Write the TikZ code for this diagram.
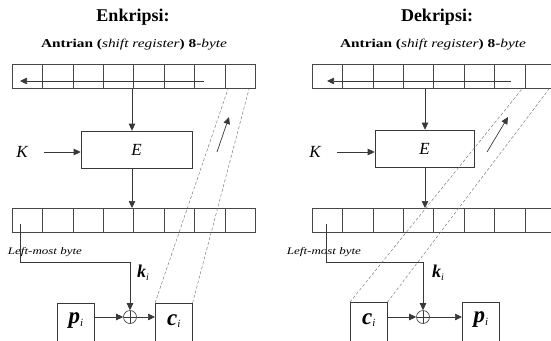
\documentclass[tikz,border=0pt]{standalone}
\usepackage{fontspec}
\setmainfont{Liberation Serif}
\usetikzlibrary{arrows.meta}

% horizontally widened text
\newcommand\wide[2][1.28]{\scalebox{#1}[1]{#2}}
% bold italic variable with italic subscript
\newcommand\var[4]{{\fontsize{#1}{#1}\selectfont\bfseries\itshape #2}{\fontsize{#4}{#4}\selectfont\itshape\raisebox{-2.5pt}{#3}}}

\begin{document}
\begin{tikzpicture}[x=1pt,y=-1pt,
  line/.style={draw=black!78, line width=0.7pt},
  arr/.style={line, -{Triangle[length=7pt,width=6.5pt]}},
  reg/.style={draw=black!72, line width=0.6pt, minimum width=243pt,
              minimum height=24pt, inner sep=0pt, anchor=north west},
  cellline/.style={draw=black!72, line width=0.6pt},
  func/.style={draw=black!78, line width=0.6pt, minimum width=#1,
               minimum height=37pt, inner sep=0pt},
  varbox/.style={draw=black!78, line width=0.6pt, minimum width=37pt,
                 minimum height=40pt, inner sep=0pt, anchor=north west},
  xor/.style={circle, draw=black!78, line width=0.6pt, minimum size=13pt,
              inner sep=0pt,
              path picture={\draw[black!78, line width=0.6pt]
                (path picture bounding box.north) -- (path picture bounding box.south)
                (path picture bounding box.west) -- (path picture bounding box.east);}},
  feed/.style={draw=black!55, line width=0.45pt, dash pattern=on 3pt off 2pt},
  title/.style={font=\fontsize{18}{18}\selectfont\bfseries},
  subtitle/.style={font=\fontsize{12}{12}\selectfont},
  note/.style={font=\fontsize{10}{10}\selectfont\itshape},
  keyname/.style={font=\fontsize{17}{17}\selectfont\itshape, inner sep=1pt}]

\useasboundingbox (0,0) rectangle (551,340);
\clip (0,0) rectangle (551,340);

% ---------------- Encryption ----------------
\node[title] (tL) at (133,17) {Enkripsi:};
\node[subtitle] (sL) at (134,45)
  {\wide{\bfseries Antrian (\mdseries\itshape shift register\/\upshape\bfseries) 8-\mdseries\itshape byte}};

\node[reg] (rtL) at (12,64) {};
\node[reg] (rbL) at (12,208) {};
\foreach \k in {1,...,7} {
  \draw[cellline] (rtL.north west) ++(30.4*\k,0) -- ++(0,24);
  \draw[cellline] (rbL.north west) ++(30.4*\k,0) -- ++(0,24);
}
\coordinate (shLa) at (204,81);
\coordinate (shLb) at (20,81);
\draw[arr] (shLa) -- (shLb);

\node[func=111pt] (EL) at (136.5,149.5) {};
\node[keyname] at (EL) {E};
\coordinate (dL) at (132,0);
\draw[arr] (rtL.south -| dL) -- (EL.north -| dL);
\draw[arr] (EL.south -| dL) -- (rbL.north -| dL);

\node[keyname] (KL) at (22,152) {K};
\coordinate (KLs) at (44,152);
\draw[arr] (KLs) -- (EL.west |- KLs);

\node[note] (lmL) at (45,252) {\wide[1.3]{Left-most byte}};
\node[xor] (xL) at (130,317) {};
\coordinate (lbL) at (20,224);
\coordinate (tnL) at (20,262);
\draw[arr] (lbL) -- (tnL) -| (xL.north);
\node (kL) at (143,273) {\var{18}{k}{i}{10}};

\node[varbox] (pL) at (57,303) {};
\node at ([yshift=-18pt]pL.north) {\var{23}{p}{i}{11}};
\node[varbox] (cL) at (155,303) {};
\node at ([yshift=-18pt]cL.north) {\var{23}{c}{i}{11}};
\draw[arr] (pL.east |- xL) -- (xL.west);
\draw[arr] (xL.east) -- (cL.west |- xL);

\coordinate (fL1) at (228,89);
\coordinate (fL2) at (249,89);
\draw[feed] (cL.north west) -- (fL1);
\draw[feed] (cL.north east) -- (fL2);
\coordinate (uLa) at (217,152);
\coordinate (uLb) at (229,117);
\draw[arr] (uLa) -- (uLb);

% ---------------- Decryption ----------------
\node[title] (tR) at (437,17) {Dekripsi:};
\node[subtitle] (sR) at (433,45)
  {\wide{\bfseries Antrian (\mdseries\itshape shift register\/\upshape\bfseries) 8-\mdseries\itshape byte}};

\node[reg] (rtR) at (312,64) {};
\node[reg] (rbR) at (312,208) {};
\foreach \k in {1,...,7} {
  \draw[cellline] (rtR.north west) ++(30.4*\k,0) -- ++(0,24);
  \draw[cellline] (rbR.north west) ++(30.4*\k,0) -- ++(0,24);
}
\coordinate (shRa) at (511,81);
\coordinate (shRb) at (327,81);
\draw[arr] (shRa) -- (shRb);

\node[func=99pt] (ER) at (424.5,148.5) {};
\node[keyname] at (ER) {E};
\coordinate (dR) at (425,0);
\draw[arr] (rtR.south -| dR) -- (ER.north -| dR);
\draw[arr] (ER.south -| dR) -- (rbR.north -| dR);

\node[keyname] (KR) at (315,152) {K};
\coordinate (KRs) at (337,152);
\draw[arr] (KRs) -- (ER.west |- KRs);

\node[note] (lmR) at (324,252) {\wide[1.3]{Left-most byte}};
\node[xor] (xR) at (423,317) {};
\coordinate (lbR) at (326,224);
\coordinate (tnR) at (326,262);
\draw[arr] (lbR) -- (tnR) -| (xR.north);
\node (kR) at (438,273) {\var{18}{k}{i}{10}};

\node[varbox] (cR) at (350,302) {};
\node at ([yshift=-18pt]cR.north) {\var{23}{c}{i}{11}};
\node[varbox] (pR) at (462,302) {};
\node at ([yshift=-18pt]pR.north) {\var{23}{p}{i}{11}};
\draw[arr] (cR.east |- xR) -- (xR.west);
\draw[arr] (xR.east) -- (pR.west |- xR);

\coordinate (fR1) at (522,89);
\coordinate (fR2) at (549,89);
\draw[feed] (cR.north west) -- (fR1);
\draw[feed] (cR.north east) -- (fR2);
\coordinate (uRa) at (487,152);
\coordinate (uRb) at (508,117);
\draw[arr] (uRa) -- (uRb);

\end{tikzpicture}
\end{document}
